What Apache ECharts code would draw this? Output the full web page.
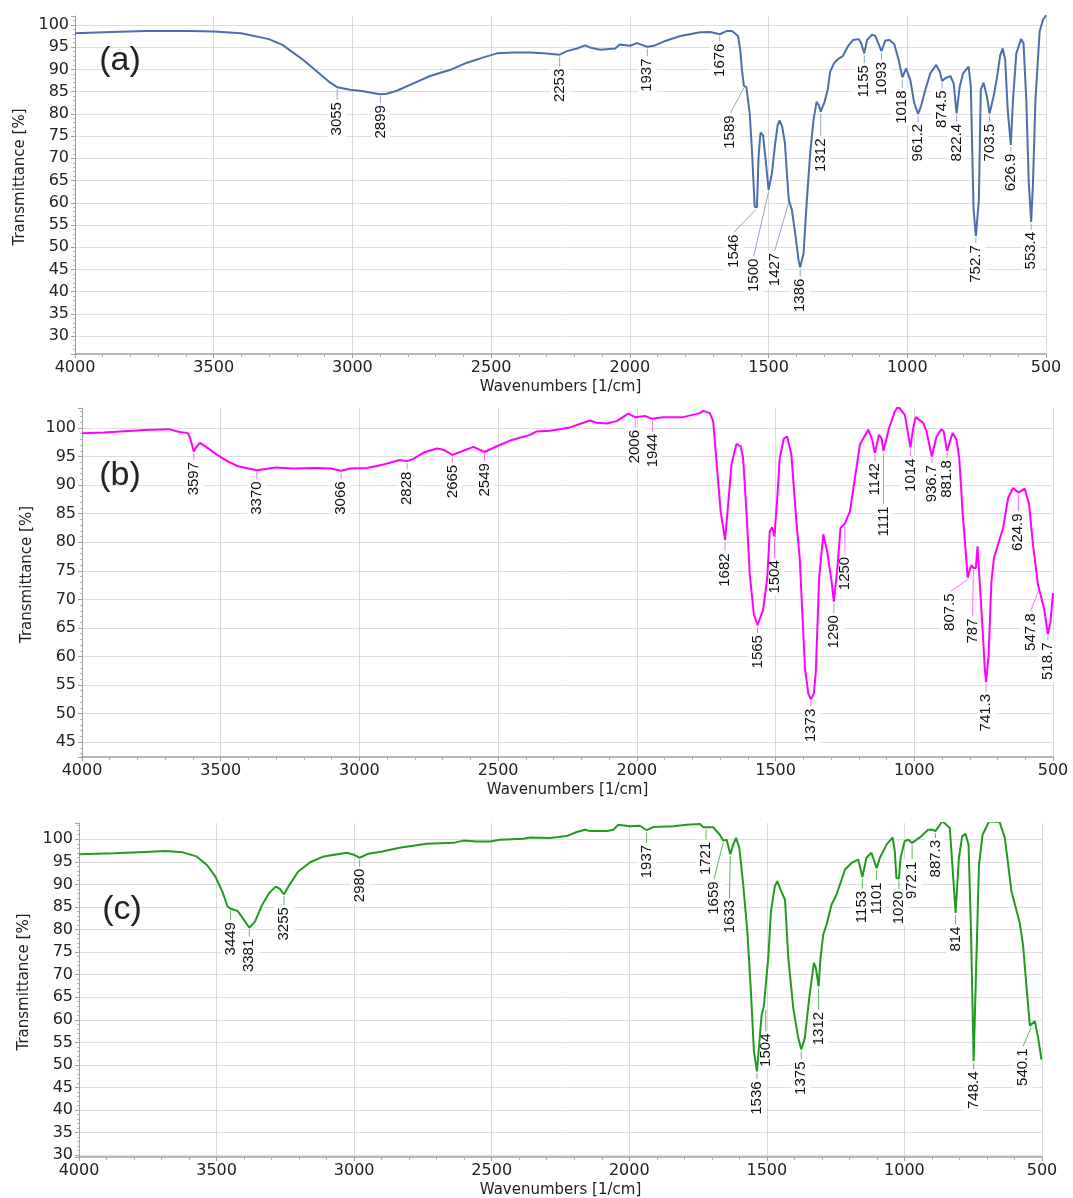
<!DOCTYPE html>
<html><head><meta charset="utf-8">
<script src="https://cdn.jsdelivr.net/npm/echarts@6/dist/echarts.min.js"></script>
<style>html,body{margin:0;padding:0;background:#fff}#chart{width:1073px;height:1198px}</style>
</head><body><div id="chart"></div><script>
// ---------- data ----------
const xTicks = [4000, 3500, 3000, 2500, 2000, 1500, 1000, 500];

// (a)
const waveA = [4000,3897,3748,3587,3500,3401,3301,3252,3177,3128,3080,3055,3008,2960,2912,2899,2876,2840,2768,2720,2647,2587,2527,2479,2419,2359,2311,2253,2227,2191,2161,2143,2107,2053,2037,1999,1975,1937,1914,1878,1818,1746,1710,1676,1650,1632,1610,1602,1596,1589,1580,1568,1560,1550,1546,1542,1536,1529,1520,1508,1500,1488,1476,1467,1460,1451,1441,1434,1427,1416,1404,1392,1386,1374,1362,1350,1338,1327,1318,1312,1298,1287,1278,1263,1248,1232,1215,1196,1175,1167,1155,1145,1127,1115,1093,1079,1064,1047,1031,1018,1004,989,975,961.2,951,935,917,896,883,874.5,863,845,833,822.4,811,799,779,771,761,752.7,742,735,725,713,703.5,689,677,665,656,647,638,626.9,619,607,590,581,571,562,553.4,547,538,523,511,500];
const transA = [98.1,98.35,98.65,98.65,98.5,98.1,96.8,95.5,92.1,89.5,87.0,86.0,85.4,85.1,84.5,84.4,84.5,85.2,87.2,88.5,89.9,91.5,92.7,93.6,93.8,93.8,93.6,93.3,94.1,94.7,95.4,94.9,94.4,94.7,95.6,95.3,95.9,95.1,95.3,96.25,97.5,98.35,98.4,97.9,98.65,98.65,97.5,94.4,89.9,86.3,86.0,80.1,71.9,59.1,58.9,59.0,70.4,75.8,75.2,68.1,62.9,66.6,73.4,77.5,78.5,77.1,73.4,66.6,60.6,58.4,53.1,47.1,45.5,48.6,60.6,71.1,78.6,82.7,81.8,80.5,82.7,85.4,89.5,91.5,92.4,93.0,95.1,96.6,96.8,96.0,93.6,96.6,97.8,97.5,94.1,96.5,96.6,95.7,92.1,88.2,90.2,87.6,82.4,80.0,81.6,85.4,89.1,91.0,89.5,87.4,88.0,88.5,86.9,80.1,86.1,89.1,90.6,86.1,58.4,52.5,60.6,85.4,87.0,83.9,80.1,83.9,88.0,93.2,94.7,92.1,80.9,73.0,83.1,93.6,96.8,95.9,83.1,64.4,55.7,64.4,83.1,98.5,101.1,102.2];
const peakTextA = ['3055','2899','2253','1937','1676','1589','1546','1500','1427','1386','1312','1155','1093','1018','961.2','874.5','822.4','752.7','703.5','626.9','553.4'];
const peakTransA = [86.0,84.4,93.3,95.1,97.9,86.3,58.9,62.9,60.6,45.5,80.5,93.6,94.1,88.2,80.0,87.4,80.1,52.5,80.1,73.0,55.7];

// (b)
const waveB = [4000,3922,3773,3686,3649,3618,3610,3597,3590,3575,3550,3513,3476,3438,3370,3302,3240,3153,3103,3066,3033,2973,2913,2855,2828,2805,2769,2721,2697,2665,2637,2589,2549,2505,2457,2385,2361,2313,2241,2211,2169,2145,2109,2073,2031,2006,1971,1944,1905,1833,1773,1761,1737,1725,1713,1698,1682,1671,1659,1641,1626,1617,1605,1593,1578,1565,1545,1530,1521,1512,1504,1494,1485,1470,1458,1443,1425,1413,1394,1382,1373,1362,1355,1343,1328,1314,1298,1290,1277,1266,1250,1232,1214,1196,1166,1152,1142,1127,1118,1111,1091,1070,1058,1034,1014,1004,995,968,956,936.7,920,902,894,881.8,862,848,838,826,807.5,801,794,787,778,772,766,754,746,741.3,732,722,713,702,680,662,644,624.9,602,586,572,554,547.8,532,518.7,509,500];
const transB = [99.1,99.2,99.65,99.8,99.3,99.1,98.2,95.9,96.5,97.4,96.6,95.3,94.2,93.3,92.6,93.1,92.9,93.0,92.9,92.5,92.9,93.0,93.6,94.4,94.2,94.6,95.7,96.4,96.2,95.3,95.8,96.7,95.8,96.8,97.8,98.8,99.4,99.5,100.1,100.6,101.3,100.9,100.8,101.2,102.5,101.9,102.1,101.6,101.9,101.9,102.6,103.0,102.6,101.2,94.2,85.4,80.4,86.6,93.6,97.2,96.8,94.7,85.4,74.3,67.3,65.5,68.1,73.7,81.9,82.6,81.0,87.7,94.7,98.2,98.5,95.3,83.6,77.2,57.9,53.5,52.5,53.5,57.3,73.7,81.4,78.4,73.1,69.6,75.5,82.5,83.3,85.4,91.2,97.1,99.7,98.0,95.6,98.8,98.2,96.0,100.0,102.9,103.8,102.3,96.6,100.0,101.9,100.9,99.4,95.0,98.5,99.8,99.4,96.0,99.1,98.0,94.7,85.4,73.8,75.0,76.0,75.5,75.5,79.3,79.1,64.9,57.9,55.5,60.3,73.1,77.2,79.0,82.5,87.7,89.5,88.7,89.4,86.6,79.5,72.5,72.4,68.4,63.9,66.1,71.1];
const peakTextB = ['3597','3370','3066','2828','2665','2549','2006','1944','1682','1565','1504','1373','1290','1250','1142','1111','1014','936.7','881.8','807.5','787','741.3','624.9','547.8','518.7'];
const peakTransB = [95.9,92.6,92.5,94.2,95.3,95.8,101.9,101.6,80.4,65.5,81.0,52.5,69.6,83.3,95.6,96.0,96.6,95.0,96.0,73.8,75.5,55.5,88.7,72.4,63.9];

// (c)
const waveC = [4000,3873,3761,3686,3623,3573,3535,3504,3479,3460,3449,3423,3398,3381,3360,3335,3310,3285,3270,3255,3235,3204,3160,3110,3060,3027,2998,2980,2948,2898,2835,2736,2639,2603,2554,2506,2470,2385,2361,2288,2228,2191,2161,2143,2082,2058,2040,1998,1961,1937,1913,1840,1792,1743,1731,1721,1695,1671,1659,1646,1633,1622,1612,1600,1586,1571,1558,1547,1536,1528,1519,1511,1504,1495,1485,1471,1462,1450,1434,1422,1404,1386,1375,1362,1346,1329,1322,1312,1305,1295,1283,1265,1247,1216,1192,1168,1160,1153,1138,1120,1101,1089,1065,1043,1035,1029,1020,1014,999,986,972.1,944,914,896,887.3,871,862,835,826,814,802,790,778,767,758,748.4,739,729,716,692,654,635,611,581,569,557,544,537,526,514,502];
const transC = [96.7,96.9,97.2,97.4,97.1,96.2,94.3,91.7,88.4,85.1,84.6,84.1,81.9,80.4,81.8,85.4,88.0,89.5,89.0,87.8,89.9,92.8,94.9,96.2,96.7,97.0,96.5,95.9,96.8,97.3,98.1,99.0,99.2,99.7,99.5,99.5,99.9,100.1,100.4,100.3,100.7,101.6,102.1,101.8,101.8,102.1,103.2,102.9,103.0,102.0,102.7,102.9,103.2,103.4,102.65,102.65,102.65,101.0,99.7,99.9,96.7,98.8,100.3,98.1,89.95,79.6,66.3,53.0,48.6,54.5,61.1,63.0,62.6,73.7,84.0,89.6,90.7,88.8,86.6,73.7,62.6,56.0,53.4,56.0,64.8,72.6,71.5,67.4,73.7,78.9,81.1,85.5,87.7,93.3,94.75,95.5,93.6,91.6,95.9,97.0,93.6,95.9,98.8,100.4,97.3,91.4,91.3,95.9,99.6,99.9,99.2,100.4,102.1,102.1,101.8,103.2,104.0,102.5,94.4,83.7,95.9,100.7,101.2,98.8,79.6,50.8,72.2,94.4,101.0,104.0,103.8,100.3,88.5,81.5,76.6,67.8,58.7,58.7,59.7,56.0,51.2];
const peakTextC = ['3449','3381','3255','2980','1937','1721','1659','1633','1536','1504','1375','1312','1153','1101','1020','972.1','887.3','814','748.4','540.1'];
const peakTransC = [84.6,80.4,87.8,95.9,102.0,102.65,99.7,96.7,48.6,62.6,53.4,67.4,91.6,93.6,91.3,99.2,101.8,83.7,50.8,58.7];

// ---------- layout of the peak labels (where the top of each label sits, data units) ----------
const labelWaveA = [3055,2899,2253,1937,1676,1638,1626,1554,1478,1386,1312,1155,1093,1018,961.2,874.5,822.4,752.7,703.5,626.9,553.4];
const labelTransA = [83.1,82.4,90.6,92.9,96.25,80.1,53.3,47.9,49.2,43.4,74.9,91.4,92.1,85.7,78.2,85.7,78.2,50.9,78.2,71.5,53.9];
const labelWaveB = [3597,3370,3066,2828,2665,2549,2006,1944,1682,1565,1504,1373,1290,1250,1142,1111,1014,936.7,881.8,870,790,741.3,624.9,581.5,518.7];
const labelTransB = [94.4,91.0,91.0,92.7,93.9,94.2,100.0,99.3,78.4,64.1,77.2,51.2,67.6,77.8,94.2,86.6,95.0,93.9,94.7,71.4,67.0,53.8,85.4,67.9,62.8];
const labelWaveC = [3449,3381,3255,2980,1937,1721,1692,1636,1536,1504,1375,1312,1153,1101,1020,972.1,887.3,814,748.4,568.7];
const labelTransC = [82.1,78.4,85.4,93.9,99.2,99.9,91.1,87.0,46.8,57.4,51.2,62.2,89.0,90.9,89.0,95.5,100.3,81.1,49.0,54.1];

// ---------- chart ----------
const FONT = 'DejaVu Sans';
const panels = [
  { wave: waveA, trans: transA, pk: peakTextA, pkT: peakTransA, lw: labelWaveA, lt: labelTransA,
    color: '#4a6fab', leader: '#8ea6cf', grid: { left: 75, top: 16, width: 971, height: 338 }, ymin: 26, ymax: 102, tag: '(a)', tagPos: [120, 61] },
  { wave: waveB, trans: transB, pk: peakTextB, pkT: peakTransB, lw: labelWaveB, lt: labelTransB,
    color: '#ff00ff', leader: '#ff6bff', grid: { left: 82, top: 408, width: 971, height: 349 }, ymin: 42.4, ymax: 103.5, tag: '(b)', tagPos: [120, 476] },
  { wave: waveC, trans: transC, pk: peakTextC, pkT: peakTransC, lw: labelWaveC, lt: labelTransC,
    color: '#229a22', leader: '#5db85d', grid: { left: 79, top: 823, width: 963, height: 334 }, ymin: 29.6, ymax: 103.6, tag: '(c)', tagPos: [122, 910] }
];

function annotRenderer(texts, leaderColor) {
  return function (params, api) {
    const p = api.coord([api.value(0), api.value(1)]);
    const l = api.coord([api.value(2), api.value(3)]);
    return {
      type: 'group',
      children: [
        { type: 'line', shape: { x1: p[0], y1: p[1] + 2, x2: l[0], y2: l[1] },
          style: { stroke: leaderColor, lineWidth: 1 } },
        { type: 'text', x: l[0], y: l[1], rotation: Math.PI / 2,
          style: { text: texts[params.dataIndex], align: 'right', verticalAlign: 'middle',
                   fill: '#111', fontSize: 15, fontFamily: 'Liberation Sans',
                   backgroundColor: '#fff', padding: [2, 2, 2, 2] } }
      ]
    };
  };
}

const grids = [], xAxes = [], yAxes = [], series = [], graphics = [];
panels.forEach((pn, i) => {
  grids.push(Object.assign({ containLabel: false, outerBoundsMode: 'none' }, pn.grid));
  xAxes.push({
    type: 'value', gridIndex: i, min: xTicks[xTicks.length - 1], max: xTicks[0], interval: 500, inverse: true,
    name: 'Wavenumbers [1/cm]', nameLocation: 'middle', nameGap: 26,
    nameTextStyle: { fontFamily: FONT, fontSize: 15, color: '#222' },
    axisLine: { show: true, lineStyle: { color: '#a0a0a0', width: 1.5 } },
    axisTick: { show: true, length: 4, lineStyle: { color: '#a0a0a0' } },
    minorTick: { show: true, splitNumber: 5, length: 3, lineStyle: { color: '#b0b0b0' } },
    axisLabel: { fontFamily: FONT, fontSize: 16, color: '#222', margin: 6,
                 formatter: v => String(v), alignMinLabel: 'center', alignMaxLabel: 'center' },
    splitLine: { show: true, lineStyle: { color: '#dadada', width: 1 } }
  });
  yAxes.push({
    type: 'value', gridIndex: i, min: pn.ymin, max: pn.ymax, minInterval: 5, maxInterval: 5, splitNumber: 15,
    name: 'Transmittance [%]', nameLocation: 'middle', nameGap: 46, nameRotate: 90,
    nameTextStyle: { fontFamily: FONT, fontSize: 15, color: '#222', padding: [0, 0, 0, 16] },
    axisLine: { show: true, lineStyle: { color: '#a0a0a0', width: 1 } },
    axisTick: { show: true, length: 4, lineStyle: { color: '#a0a0a0' } },
    minorTick: { show: true, splitNumber: 5, length: 2, lineStyle: { color: '#b5b5b5' } },
    axisLabel: { fontFamily: FONT, fontSize: 16, color: '#222', margin: 6, showMinLabel: false, showMaxLabel: false,
                 formatter: v => String(v) },
    splitLine: { show: true, showMinLine: false, showMaxLine: false, lineStyle: { color: '#dedede', width: 1 } }
  });
  series.push({
    type: 'custom', coordinateSystem: 'cartesian2d', xAxisIndex: i, yAxisIndex: i, z: 1, silent: true,
    renderItem: annotRenderer(pn.pk, pn.leader),
    data: pn.pk.map((t, k) => [Number(t), pn.pkT[k], pn.lw[k], pn.lt[k]])
  });
  series.push({
    type: 'line', xAxisIndex: i, yAxisIndex: i, z: 2, showSymbol: false, symbol: 'none', silent: true, clip: true,
    lineStyle: { color: pn.color, width: 2 }, itemStyle: { color: pn.color },
    data: pn.wave.map((w, k) => [w, pn.trans[k]])
  });
  graphics.push({
    type: 'text', x: pn.tagPos[0], y: pn.tagPos[1], z: 10,
    style: { text: pn.tag, fontSize: 34, fontFamily: 'Liberation Sans', fill: '#222',
             align: 'center', verticalAlign: 'middle', textAlign: 'center', textVerticalAlign: 'middle' }
  });
});

const chart = echarts.init(document.getElementById('chart'), null, { renderer: 'canvas' });
chart.setOption({
  animation: false,
  backgroundColor: '#fff',
  textStyle: { fontFamily: FONT },
  grid: grids, xAxis: xAxes, yAxis: yAxes, series: series, graphic: graphics
});
</script></body></html>
